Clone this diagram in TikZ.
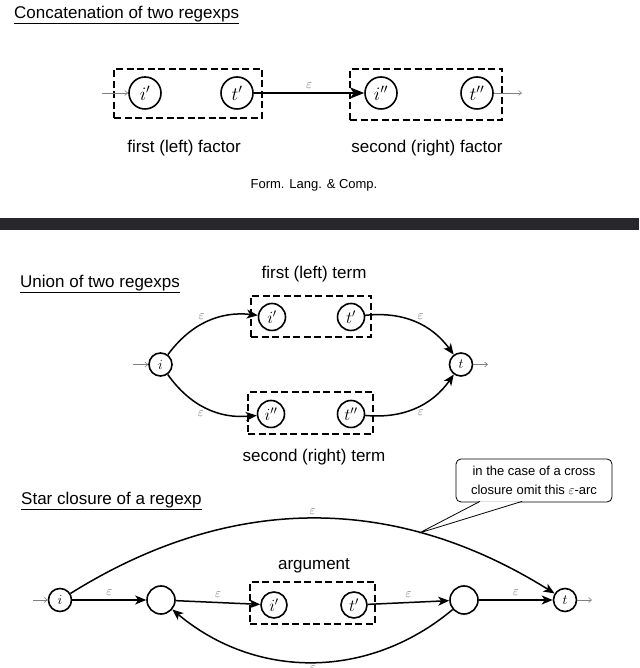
\RequirePackage{fix-cm}
\documentclass[tikz,border=0pt]{standalone}
\usepackage{fontspec}
\setmainfont{Liberation Sans}
\usepackage{tikz}
\usetikzlibrary{arrows.meta,positioning}
\definecolor{barcolor}{RGB}{40,40,44}

\begin{document}
\begin{tikzpicture}[
    x=1pt, y=1pt,
    font=\fontsize{17}{20}\selectfont,
    state/.style={circle, draw, line width=1.6pt, minimum size=27pt, inner sep=0pt, font=\fontsize{17}{19}\selectfont},
    bigstate/.style={state, minimum size=32pt, font=\fontsize{19}{21}\selectfont},
    endstate/.style={state, minimum size=23pt, font=\fontsize{14}{16}\selectfont},
    part/.style={rectangle, draw, line width=2.4pt, dash pattern=on 7pt off 3.5pt},
    eps/.style={text=black!60, font=\fontsize{13}{15}\selectfont, inner sep=1pt},
    link/.style={-{Stealth[length=11pt, width=9pt, inset=3pt]}, line width=1.5pt},
    thicklink/.style={-{Stealth[length=14pt, width=11pt, inset=3.5pt]}, line width=2.2pt},
    enter/.style={-{Straight Barb[length=3pt, width=5pt]}, gray, line width=0.6pt},
    heading/.style={anchor=west, inner sep=0pt},
    note/.style={rectangle, rounded corners=5pt, draw, line width=0.8pt, fill=white, align=center, font=\fontsize{13}{19}\selectfont, minimum width=156pt, minimum height=43pt}
]
\useasboundingbox (0,0) rectangle (639,668);

    % Concatenation of two regexps
    \node[heading] (cathead) at (14,653) {\underline{Concatenation of two regexps}};
    \node[part, minimum width=148pt, minimum height=49pt] (cbox1) at (188,574.5) {};
    \node[part, minimum width=152pt, minimum height=51pt] (cbox2) at (426,573.5) {};
    \node[bigstate] (ci1) at (145,575) {$i'$};
    \node[bigstate] (ct1) at (237,575) {$t'$};
    \node[bigstate] (ci2) at (381,575) {$i''$};
    \node[bigstate] (ct2) at (477,575) {$t''$};
    \coordinate (cin) at (102,575);
    \coordinate (cout) at (522,575);
    \draw[enter] (cin) -- (ci1);
    \draw[enter] (ct2) -- (cout);
    \draw[thicklink] (ct1) -- node[eps, above=2pt] {$\varepsilon$} (ci2);
    \node (cleft) at (184,520) {first (left) factor};
    \node (cright) at (427,520) {second (right) factor};
    \node[font=\fontsize{13}{15}\selectfont] (foot) at (314,483) {Form. Lang. \& Comp.};

    % Separator
    \fill[barcolor] (0,438) rectangle (639,450);

    % Union of two regexps
    \node[heading] (unihead) at (20,384) {\underline{Union of two regexps}};
    \node (utop) at (314,394) {first (left) term};
    \node[part, minimum width=120pt, minimum height=41pt] (ubox1) at (311,351.5) {};
    \node[part, minimum width=125pt, minimum height=42pt] (ubox2) at (310.5,255) {};
    \node[state] (ui1) at (272,351) {$i'$};
    \node[state] (ut1) at (351,351) {$t'$};
    \node[state] (ui2) at (271,254) {$i''$};
    \node[state] (ut2) at (351,254) {$t''$};
    \node[endstate] (ui) at (160.5,303.5) {$i$};
    \node[endstate] (ut) at (461,303.5) {$t$};
    \coordinate (uin) at (133,303.5);
    \coordinate (uout) at (488,303.5);
    \draw[enter] (uin) -- (ui);
    \draw[enter] (ut) -- (uout);
    \draw[link] (ui) to[bend left=30] node[eps, above left=1pt] {$\varepsilon$} (ui1);
    \draw[link] (ut1) to[bend left=30] node[eps, above right=1pt] {$\varepsilon$} (ut);
    \draw[link] (ui) to[bend right=30] node[eps, below left=1pt] {$\varepsilon$} (ui2);
    \draw[link] (ut2) to[bend right=30] node[eps, below right=1pt] {$\varepsilon$} (ut);
    \node (ubottom) at (314,211) {second (right) term};

    % Star closure of a regexp
    \node[heading] (starhead) at (21,167) {\underline{Star closure of a regexp}};
    \node (sarg) at (314,102) {argument};
    \node[part, minimum width=125pt, minimum height=42pt] (sbox) at (312.5,65) {};
    \node[endstate] (si) at (60,68) {$i$};
    \node[state, minimum size=28pt] (sn1) at (161,68) {};
    \node[state, minimum size=26pt] (si1) at (274,63) {$i'$};
    \node[state, minimum size=26pt] (st1) at (354,63) {$t'$};
    \node[state, minimum size=28pt] (sn2) at (464,68) {};
    \node[endstate] (st) at (565,68) {$t$};
    \coordinate (sin) at (33,68);
    \coordinate (sout) at (592,68);
    \draw[enter] (sin) -- (si);
    \draw[enter] (st) -- (sout);
    \draw[link] (si) -- node[eps, above=3pt] {$\varepsilon$} (sn1);
    \draw[link] (sn1) -- node[eps, above=3pt] {$\varepsilon$} (si1);
    \draw[link] (st1) -- node[eps, above=3pt] {$\varepsilon$} (sn2);
    \draw[link] (sn2) -- node[eps, above=3pt] {$\varepsilon$} (st);
    \draw[link] (si) to[bend left=32] node[eps, above=2pt] {$\varepsilon$} coordinate[pos=0.72] (hinttip) (st);
    \draw[link] (sn2) to[bend left=40] node[eps, below=2pt] {$\varepsilon$} (sn1);

    % Remark on cross closure
    \node[note] (hint) at (534,187.5) {in the case of a cross\\closure omit this $\varepsilon$-arc};
    \draw[line width=0.8pt, fill=white] ([xshift=-54pt, yshift=1pt]hint.south) -- (hinttip) -- ([xshift=-12pt, yshift=1pt]hint.south);

\end{tikzpicture}
\end{document}
